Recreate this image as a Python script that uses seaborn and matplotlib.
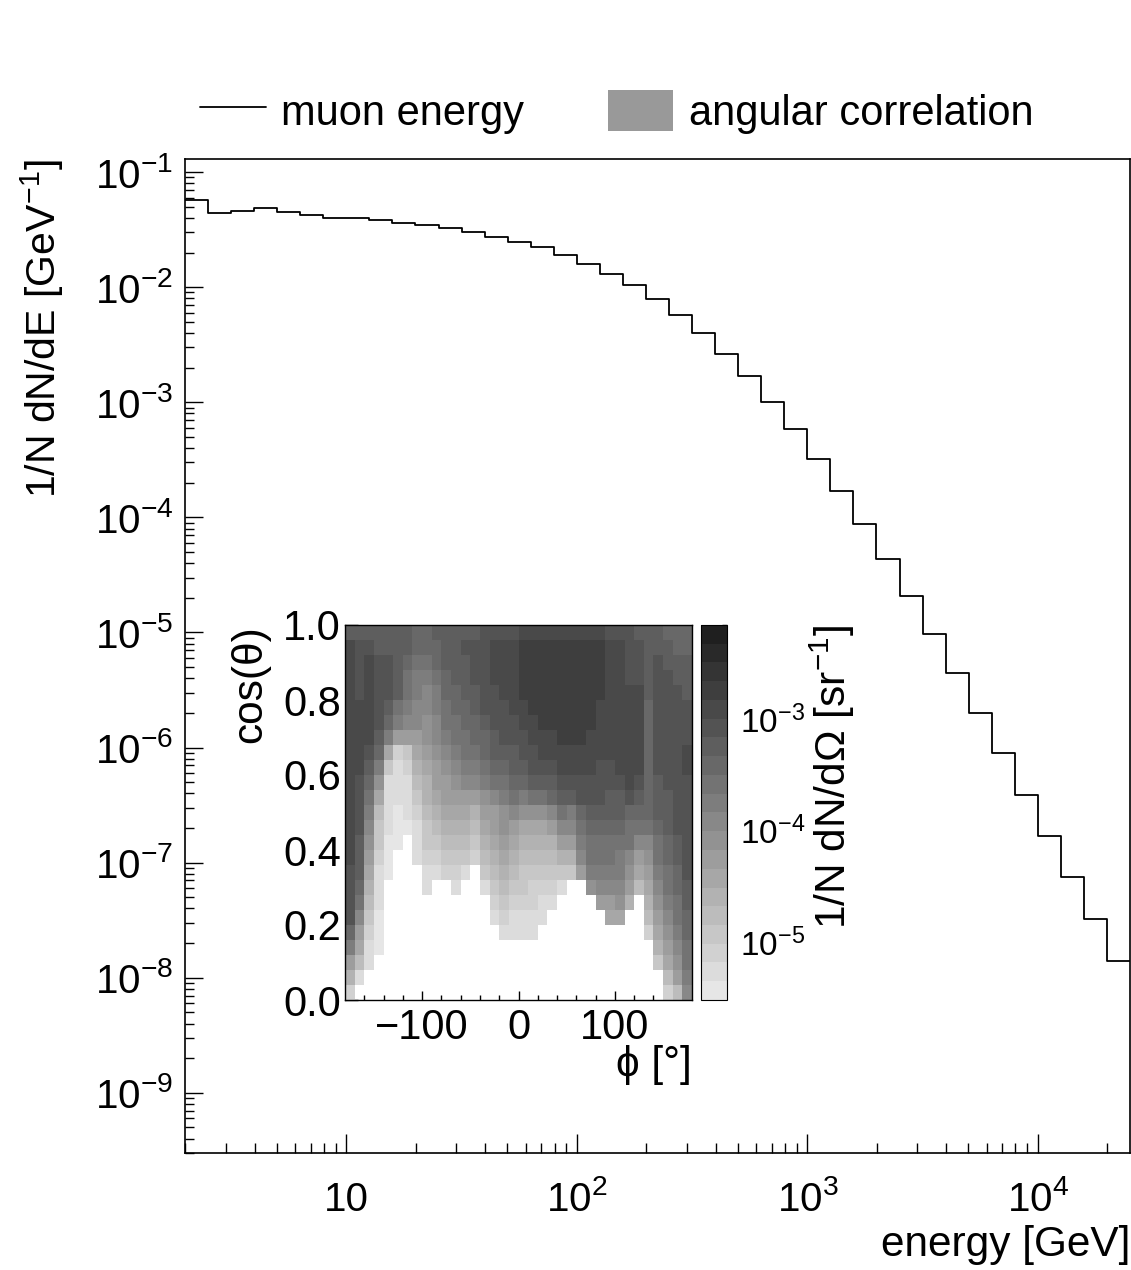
import numpy as np
import pandas as pd
import matplotlib
matplotlib.use("Agg")
import matplotlib.pyplot as plt
import seaborn as sns
from matplotlib.colors import ListedColormap, LogNorm
from matplotlib.ticker import LogLocator, NullFormatter, FixedLocator, FuncFormatter
from matplotlib.lines import Line2D
from matplotlib.patches import Patch

# ---------------- data ----------------
energy_edges = [1.995, 2.512, 3.162, 3.981, 5.012, 6.310, 7.943, 10.0, 12.59, 15.85,
                19.95, 25.12, 31.62, 39.81, 50.12, 63.10, 79.43, 100.0, 125.9, 158.5,
                199.5, 251.2, 316.2, 398.1, 501.2, 631.0, 794.3, 1000.0, 1259.0, 1585.0,
                1995.0, 2512.0, 3162.0, 3981.0, 5012.0, 6310.0, 7943.0, 10000.0, 12589.0,
                15849.0, 19953.0, 25119.0]
muon_dnde = [0.0571, 0.0438, 0.0461, 0.0490, 0.0449, 0.0421, 0.0401, 0.0398, 0.0385, 0.0363,
             0.0347, 0.0324, 0.0303, 0.0274, 0.0248, 0.0222, 0.0190, 0.0160, 0.0131, 0.01035,
             0.00783, 0.00573, 0.00397, 0.00264, 0.00168, 0.00101, 5.82e-4, 3.21e-4, 1.70e-4,
             8.69e-5, 4.32e-5, 2.07e-5, 9.77e-6, 4.47e-6, 2.00e-6, 8.95e-7, 3.89e-7, 1.71e-7,
             7.45e-8, 3.24e-8, 1.41e-8]
energy_major_ticks = [10, 100, 1000, 10000]
dnde_major_ticks = [1e-9, 1e-8, 1e-7, 1e-6, 1e-5, 1e-4, 1e-3, 1e-2, 1e-1]

legend_labels = ["muon energy", "angular correlation"]

# angular map: phi bins of 10 deg from -180 to 180 (one string per phi bin),
# each string lists cos(theta) bins of 0.04 from 1.0 (top) down to 0.0;
# characters are colour-level codes (0 = lightest ... J = darkest), '.' = empty
phi_lo, phi_step = -180.0, 10.0
cos_step = 0.04
level_chars = "0123456789ABCDEFGHIJ"
z_min, z_max = 3.04e-6, 7.0e-3
angular_columns = [
    "DFFFFFFFFFFFFFFFEEEECA752",
    "DEEEEFFFFFEEEEDDDCB97641.",
    "DEFFFFFFEDCBA9876543211..",
    "DDEEEEEDCA864332111000...",
    "DDEEEDCA631111000........",
    "DDDDDBA72111000..........",
    "DDCBBA97321110...........",
    "CCBAA99765432111.........",
    "CCBA99887655433211.......",
    "DCCBAA99877654321........",
    "DDDCCBBA987765432........",
    "DDDDCCBBA987654321.......",
    "DEDDDCCBBA9765431........",
    "DEEEDDCCBA975432.........",
    "EEEEEEDCCBA8765431.......",
    "EFFFEEEDDCB977654321.....",
    "EFFFFEEEDCBA887654321....",
    "EFFFFFEEDDCB976543211....",
    "FGGGGFFEEDCA865433211....",
    "FGGGGGFFEEDB865432211....",
    "FGGGGGGFFEDB86543211.....",
    "FGGGGGGFFEDC9754321......",
    "FGGGGGGGFFEDB97531.......",
    "FGGGGGGGFFEDA9753........",
    "FGGGGGGGFFEECBA97........",
    "FGGGGGGFFFEEDCBBA8.......",
    "FGGGGFFFFEEEDCBBA97......",
    "EFFFFFFFFEEDDCBBA976.....",
    "EFFFFFFFFFEDDCBAA986.....",
    "EEEEFFFFFFFECBB9875......",
    "DEEEFFFFFFEDCB9764.......",
    "DDDDDCCCCCCCCB9876542....",
    "DDEEEEEEEEDDDCBBA987653..",
    "CDDEEEEEEEEDDDCCBBA987642",
    "CCDDEEEEEEEEEEDDCCBBA9874",
    "CCDDDEEEFFEEEEEEEDDCCBBA9",
]
phi_major = [-100, 0, 100]
phi_minor = [-160, -140, -120, -80, -60, -40, -20, 20, 40, 60, 80, 120, 140, 160]
cos_major = [0.0, 0.2, 0.4, 0.6, 0.8, 1.0]
cos_minor = [0.05, 0.10, 0.15, 0.25, 0.30, 0.35, 0.45, 0.50, 0.55, 0.65, 0.70, 0.75, 0.85, 0.90, 0.95]

# ---------------- style ----------------
sns.set_theme(style="ticks")
plt.rcParams.update({
    "font.family": ["Liberation Sans", "DejaVu Sans"],
    "mathtext.fontset": "custom",
    "mathtext.rm": "Liberation Sans",
    "mathtext.it": "Liberation Sans:italic",
    "mathtext.bf": "Liberation Sans:bold",
    "axes.edgecolor": "black",
    "axes.linewidth": 1.2,
    "xtick.color": "black",
    "ytick.color": "black",
    "text.color": "black",
    "axes.labelcolor": "black",
    "axes.facecolor": "white",
    "figure.facecolor": "white",
})
FS = 30.5
W, H = 1131, 1270
fig = plt.figure(figsize=(W / 100, H / 100), dpi=100)


def rect(l, t, r, b):
    return [l / W, 1 - b / H, (r - l) / W, (b - t) / H]


# ---------------- main histogram ----------------
ax = fig.add_axes(rect(185, 159, 1130, 1153))
ax.set_xscale("log")
ax.set_yscale("log")
df = pd.DataFrame({"energy": energy_edges, "dnde": muon_dnde + [muon_dnde[-1]]})
sns.lineplot(data=df, x="energy", y="dnde", drawstyle="steps-post", color="black",
             linewidth=1.3, estimator=None, ax=ax)
ax.set_xlim(energy_edges[0], energy_edges[-1])
ax.set_ylim(3e-10, 0.13)


def fmt_energy(v, pos):
    e = int(round(np.log10(v)))
    if e == 1:
        return "10"
    return r"$\mathdefault{10^{%d}}$" % e


def fmt_dnde(v, pos):
    e = int(round(np.log10(v)))
    return r"$\mathdefault{10^{%d}}$" % e


ax.xaxis.set_major_locator(FixedLocator(energy_major_ticks))
ax.xaxis.set_major_formatter(FuncFormatter(fmt_energy))
ax.xaxis.set_minor_locator(LogLocator(base=10, subs=np.arange(2, 10), numticks=30))
ax.xaxis.set_minor_formatter(NullFormatter())
ax.yaxis.set_major_locator(FixedLocator(dnde_major_ticks))
ax.yaxis.set_major_formatter(FuncFormatter(fmt_dnde))
ax.yaxis.set_minor_locator(LogLocator(base=10, subs=np.arange(2, 10), numticks=30))
ax.yaxis.set_minor_formatter(NullFormatter())
ax.tick_params(axis="both", which="both", direction="in", top=False, right=False, width=1.0)
ax.tick_params(axis="x", which="major", length=14, pad=42, labelsize=29)
ax.tick_params(axis="x", which="minor", length=7)
ax.tick_params(axis="y", which="major", length=13, pad=8.5, labelsize=29)
ax.tick_params(axis="y", which="minor", length=6.5)
for t in ax.get_xticklabels():
    t.set_va("baseline")

ax.set_xlabel("energy [GeV]", fontsize=FS, loc="right")
ax.xaxis.set_label_coords(1.0, -0.0926)
ax.xaxis.label.set_va("center")
ax.set_ylabel("1/N dN/dE [GeV$^{-1}$]", fontsize=FS - 1, loc="top")
ax.yaxis.set_label_coords(-0.151, 1.0)
ax.yaxis.label.set_va("center")

# ---------------- inset angular map ----------------
iax = fig.add_axes(rect(345, 625, 692, 1000))
cax = fig.add_axes(rect(701, 625, 727, 1000))

n_phi = len(angular_columns)
n_cos = 25
lmin, lmax = np.log10(z_min), np.log10(z_max)
dl = (lmax - lmin) / len(level_chars)
grid = np.full((n_cos, n_phi), np.nan)
for j, col in enumerate(angular_columns):
    col = col[:n_cos].ljust(n_cos, ".")
    for i, ch in enumerate(col):
        if ch != ".":
            k = level_chars.index(ch)
            grid[i, j] = 10 ** (lmin + (k + 0.5) * dl)

greys = [((230 - k * 10.5) / 255,) * 3 for k in range(len(level_chars))]
cmap = ListedColormap(greys)
norm = LogNorm(vmin=z_min, vmax=z_max)

sns.heatmap(grid, ax=iax, cbar_ax=cax, cmap=cmap, norm=norm,
            xticklabels=False, yticklabels=False, linewidths=0)

for s in iax.spines.values():
    s.set_visible(True)
    s.set_color("black")
    s.set_linewidth(1.0)

iax.set_xticks([(p - phi_lo) / phi_step for p in phi_major])
iax.set_xticklabels([("\u2212%d" % -p) if p < 0 else "%d" % p for p in phi_major])
iax.set_xticks([(p - phi_lo) / phi_step for p in phi_minor], minor=True)
iax.set_yticks([(1 - c) / cos_step for c in cos_major])
iax.set_yticklabels(["%.1f" % c for c in cos_major])
iax.set_yticks([(1 - c) / cos_step for c in cos_minor], minor=True)
iax.tick_params(which="both", direction="in", left=True, bottom=True, top=False, right=False,
                labelsize=30, width=1.0, labelrotation=0, color="black")
iax.tick_params(axis="y", which="major", length=9, pad=3)
iax.tick_params(axis="y", which="minor", length=4.5)
iax.tick_params(axis="x", which="major", length=6.5, pad=6)
iax.tick_params(axis="x", which="minor", length=3.3)

iax.set_xlabel("\u03d5 [\u00b0]", fontsize=FS, loc="right")
iax.xaxis.set_label_coords(1.0, -0.173)
iax.xaxis.label.set_va("center")
iax.set_ylabel("cos(\u03b8)", fontsize=FS, loc="top")
iax.yaxis.set_label_coords(-0.274, 1.0)
iax.yaxis.label.set_va("center")

cb = iax.collections[0].colorbar
cb.outline.set_linewidth(0.8)
cb.outline.set_edgecolor("black")
cax.yaxis.set_ticks_position("right")
cax.yaxis.set_minor_locator(LogLocator(base=10, subs=np.arange(2, 10), numticks=30))
cax.yaxis.set_minor_formatter(NullFormatter())
cax.tick_params(which="both", direction="in", right=True, left=False, labelsize=24,
                pad=9, width=1.0, color="black")
cax.tick_params(which="major", length=7)
cax.tick_params(which="minor", length=3.5)
cb.set_label("1/N dN/d\u03a9 [sr$^{-1}$]", fontsize=FS, loc="top")
cax.yaxis.set_label_coords(5.04, 1.0)
cax.yaxis.label.set_va("center")

# ---------------- legend ----------------
handles = [Line2D([], [], color="black", linewidth=1.3),
           Patch(facecolor="#999999", edgecolor="none")]
fig.legend(handles, legend_labels, loc="center left", bbox_to_anchor=(200 / W, 1 - 112 / H),
           ncol=2, frameon=False, fontsize=30, handlelength=1.58, handleheight=1.15,
           handletextpad=0.37, columnspacing=2.0, borderpad=0, borderaxespad=0)

fig.savefig("out.png", dpi=100)
